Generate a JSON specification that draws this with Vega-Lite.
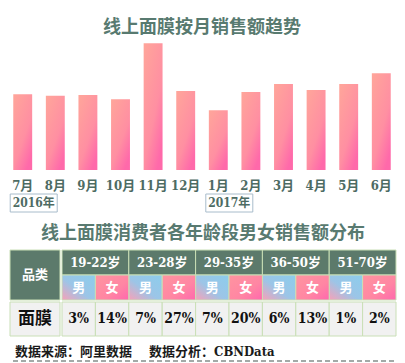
{
  "$schema": "https://vega.github.io/schema/vega-lite/v6.json",
  "padding": {"left": 9, "top": 19, "right": 0, "bottom": 0},
  "background": "white",
  "spacing": 6,
  "config": {
    "view": {"stroke": null},
    "title": {"font": "Noto Sans CJK SC", "fontWeight": "bold", "fontSize": 18, "color": "#587a70", "anchor": "middle"}
  },
  "datasets": {
    "months": [
      {"month": "7月", "sales": 75.7, "year": "2016年"},
      {"month": "8月", "sales": 74.3},
      {"month": "9月", "sales": 75.0},
      {"month": "10月", "sales": 70.7},
      {"month": "11月", "sales": 126.7},
      {"month": "12月", "sales": 79.0},
      {"month": "1月", "sales": 59.7, "year": "2017年"},
      {"month": "2月", "sales": 78.0},
      {"month": "3月", "sales": 86.0},
      {"month": "4月", "sales": 80.0},
      {"month": "5月", "sales": 86.0},
      {"month": "6月", "sales": 96.7}
    ],
    "cells": [
      {"age": "19-22岁", "sex": "男", "share": 0.03},
      {"age": "19-22岁", "sex": "女", "share": 0.14},
      {"age": "23-28岁", "sex": "男", "share": 0.07},
      {"age": "23-28岁", "sex": "女", "share": 0.27},
      {"age": "29-35岁", "sex": "男", "share": 0.07},
      {"age": "29-35岁", "sex": "女", "share": 0.20},
      {"age": "36-50岁", "sex": "男", "share": 0.06},
      {"age": "36-50岁", "sex": "女", "share": 0.13},
      {"age": "51-70岁", "sex": "男", "share": 0.01},
      {"age": "51-70岁", "sex": "女", "share": 0.02}
    ]
  },
  "vconcat": [
    {
      "width": 384,
      "height": 178,
      "title": {"text": "线上面膜按月销售额趋势", "offset": 3},
      "data": {"name": "months"},
      "encoding": {
        "x": {"field": "month", "type": "nominal", "sort": null, "axis": null, "scale": {"paddingInner": 0.42, "paddingOuter": 0.1}}
      },
      "layer": [
        {
          "mark": {"type": "bar", "color": {"gradient": "linear", "x1": 0, "y1": 0, "x2": 0.7, "y2": 1, "stops": [{"offset": 0, "color": "#ffa69a"}, {"offset": 0.65, "color": "#ff8fa2"}, {"offset": 1, "color": "#ff69aa"}]}},
          "encoding": {
            "y": {"field": "sales", "type": "quantitative", "axis": null, "scale": {"domain": [-48, 130], "nice": false, "zero": false}}
          }
        },
        {
          "mark": {"type": "text", "font": "DejaVu Serif Condensed, DejaVu Serif, Noto Sans CJK SC", "fontSize": 13, "fontWeight": "bold", "color": "#4d6b63", "baseline": "middle"},
          "encoding": {"y": {"datum": -16}, "text": {"field": "month"}}
        },
        {
          "transform": [{"filter": "datum.year != null"}],
          "mark": {"type": "rect", "width": 47, "xOffset": 11, "fill": "white", "stroke": "#a8bccb", "strokeWidth": 1},
          "encoding": {"y": {"datum": -24}, "y2": {"datum": -42}}
        },
        {
          "transform": [{"filter": "datum.year != null"}],
          "mark": {"type": "text", "dx": 11, "font": "DejaVu Serif Condensed, DejaVu Serif, Noto Sans CJK SC", "fontSize": 12, "fontWeight": "bold", "color": "#4d6b63", "baseline": "middle"},
          "encoding": {"y": {"datum": -33}, "text": {"field": "year"}}
        }
      ]
    },
    {
      "title": {"text": "线上面膜消费者各年龄段男女销售额分布", "offset": 7},
      "spacing": 0,
      "vconcat": [
        {
          "spacing": 0,
          "hconcat": [
            {
              "width": 50,
              "height": 50,
              "data": {"values": [{"k": "品类"}]},
              "encoding": {
                "x": {"field": "k", "type": "nominal", "axis": null, "scale": {"paddingInner": 0, "paddingOuter": 0}},
                "y": {"field": "k", "type": "nominal", "axis": null, "scale": {"paddingInner": 0, "paddingOuter": 0}}
              },
              "layer": [
                {"mark": {"type": "rect", "fill": "#5c7a6b", "stroke": "#c9dfb6", "strokeWidth": 1}},
                {"mark": {"type": "text", "color": "white", "font": "Noto Sans CJK SC", "fontWeight": "bold", "fontSize": 13, "baseline": "middle"}, "encoding": {"text": {"field": "k"}}}
              ]
            },
            {
              "width": 334,
              "height": 50,
              "data": {"name": "cells"},
              "encoding": {
                "x": {"field": "age", "type": "nominal", "sort": null, "axis": null, "scale": {"paddingInner": 0, "paddingOuter": 0}}
              },
              "layer": [
                {
                  "transform": [{"filter": "datum.sex === '男'"}],
                  "mark": {"type": "rect", "fill": "#5c7a6b", "stroke": "#c9dfb6", "strokeWidth": 1},
                  "encoding": {"y": {"datum": "年龄", "type": "nominal", "axis": null, "scale": {"domain": ["年龄", "性别"], "paddingInner": 0, "paddingOuter": 0}}}
                },
                {
                  "transform": [{"filter": "datum.sex === '男'"}],
                  "mark": {"type": "text", "color": "white", "font": "DejaVu Serif Condensed, DejaVu Serif, Noto Sans CJK SC", "fontWeight": "bold", "fontSize": 13, "baseline": "middle"},
                  "encoding": {"y": {"datum": "年龄", "type": "nominal"}, "text": {"field": "age"}}
                },
                {
                  "transform": [{"filter": "datum.sex === '男'"}],
                  "mark": {"type": "rect", "stroke": "#c9dfb6", "strokeWidth": 1, "fill": {"gradient": "linear", "x1": 1, "y1": 0, "x2": 0, "y2": 1, "stops": [{"offset": 0, "color": "#8ccdec"}, {"offset": 0.55, "color": "#9cc5e7"}, {"offset": 1, "color": "#f7a1b8"}]}},
                  "encoding": {
                    "xOffset": {"field": "sex", "type": "nominal", "scale": {"domain": ["男", "女"], "paddingInner": 0, "paddingOuter": 0}},
                    "y": {"datum": "性别", "type": "nominal"}
                  }
                },
                {
                  "transform": [{"filter": "datum.sex === '女'"}],
                  "mark": {"type": "rect", "stroke": "#c9dfb6", "strokeWidth": 1, "fill": {"gradient": "linear", "x1": 0, "y1": 0, "x2": 1, "y2": 1, "stops": [{"offset": 0, "color": "#ff94a0"}, {"offset": 0.6, "color": "#ff86a3"}, {"offset": 1, "color": "#ff67ae"}]}},
                  "encoding": {
                    "xOffset": {"field": "sex", "type": "nominal"},
                    "y": {"datum": "性别", "type": "nominal"}
                  }
                },
                {
                  "mark": {"type": "text", "color": "white", "font": "Noto Sans CJK SC", "fontWeight": "bold", "fontSize": 13, "baseline": "middle"},
                  "encoding": {
                    "xOffset": {"field": "sex", "type": "nominal"},
                    "y": {"datum": "性别", "type": "nominal"},
                    "text": {"field": "sex"}
                  }
                }
              ]
            }
          ]
        },
        {
          "spacing": 0,
          "hconcat": [
            {
              "width": 50,
              "height": 34,
              "data": {"values": [{"k": "面膜"}]},
              "encoding": {
                "x": {"field": "k", "type": "nominal", "axis": null, "scale": {"paddingInner": 0, "paddingOuter": 0}},
                "y": {"field": "k", "type": "nominal", "axis": null, "scale": {"paddingInner": 0, "paddingOuter": 0}}
              },
              "layer": [
                {"mark": {"type": "rect", "fill": "#f1f1f1", "stroke": "#c9dfb6", "strokeWidth": 1}},
                {"mark": {"type": "text", "color": "#111111", "font": "Noto Sans CJK SC", "fontWeight": "bold", "fontSize": 17, "baseline": "middle"}, "encoding": {"text": {"field": "k"}}}
              ]
            },
            {
              "width": 334,
              "height": 34,
              "data": {"name": "cells"},
              "encoding": {
                "x": {"field": "age", "type": "nominal", "sort": null, "axis": null, "scale": {"paddingInner": 0, "paddingOuter": 0}},
                "xOffset": {"field": "sex", "type": "nominal", "scale": {"domain": ["男", "女"], "paddingInner": 0, "paddingOuter": 0}},
                "y": {"datum": "面膜", "type": "nominal", "axis": null, "scale": {"paddingInner": 0, "paddingOuter": 0}}
              },
              "layer": [
                {"mark": {"type": "rect", "fill": "#f1f1f1", "stroke": "#c9dfb6", "strokeWidth": 1}},
                {"mark": {"type": "text", "color": "#111111", "font": "DejaVu Serif Condensed, DejaVu Serif", "fontWeight": "bold", "fontSize": 14, "baseline": "middle"}, "encoding": {"text": {"field": "share", "type": "quantitative", "format": ".0%"}}}
              ]
            }
          ]
        }
      ]
    },
    {
      "width": 384,
      "height": 18,
      "data": {"values": [{"note": "数据来源：阿里数据　 数据分析：CBNData"}]},
      "layer": [
        {
          "mark": {"type": "text", "align": "left", "dx": 5, "baseline": "middle", "font": "DejaVu Serif Condensed, DejaVu Serif, Noto Sans CJK SC", "fontWeight": "bold", "fontSize": 13, "color": "#1a1a1a"},
          "encoding": {
            "x": {"field": "note", "type": "nominal", "scale": {"type": "point", "align": 0, "padding": 0}, "axis": null},
            "y": {"datum": 0.5, "type": "quantitative", "scale": {"domain": [0, 1], "nice": false}, "axis": null},
            "text": {"field": "note"}
          }
        },
        {
          "mark": {"type": "rule", "strokeDash": [5, 3], "color": "#a3aaa8", "strokeWidth": 2},
          "encoding": {"y": {"datum": 0, "type": "quantitative"}}
        }
      ]
    }
  ]
}
